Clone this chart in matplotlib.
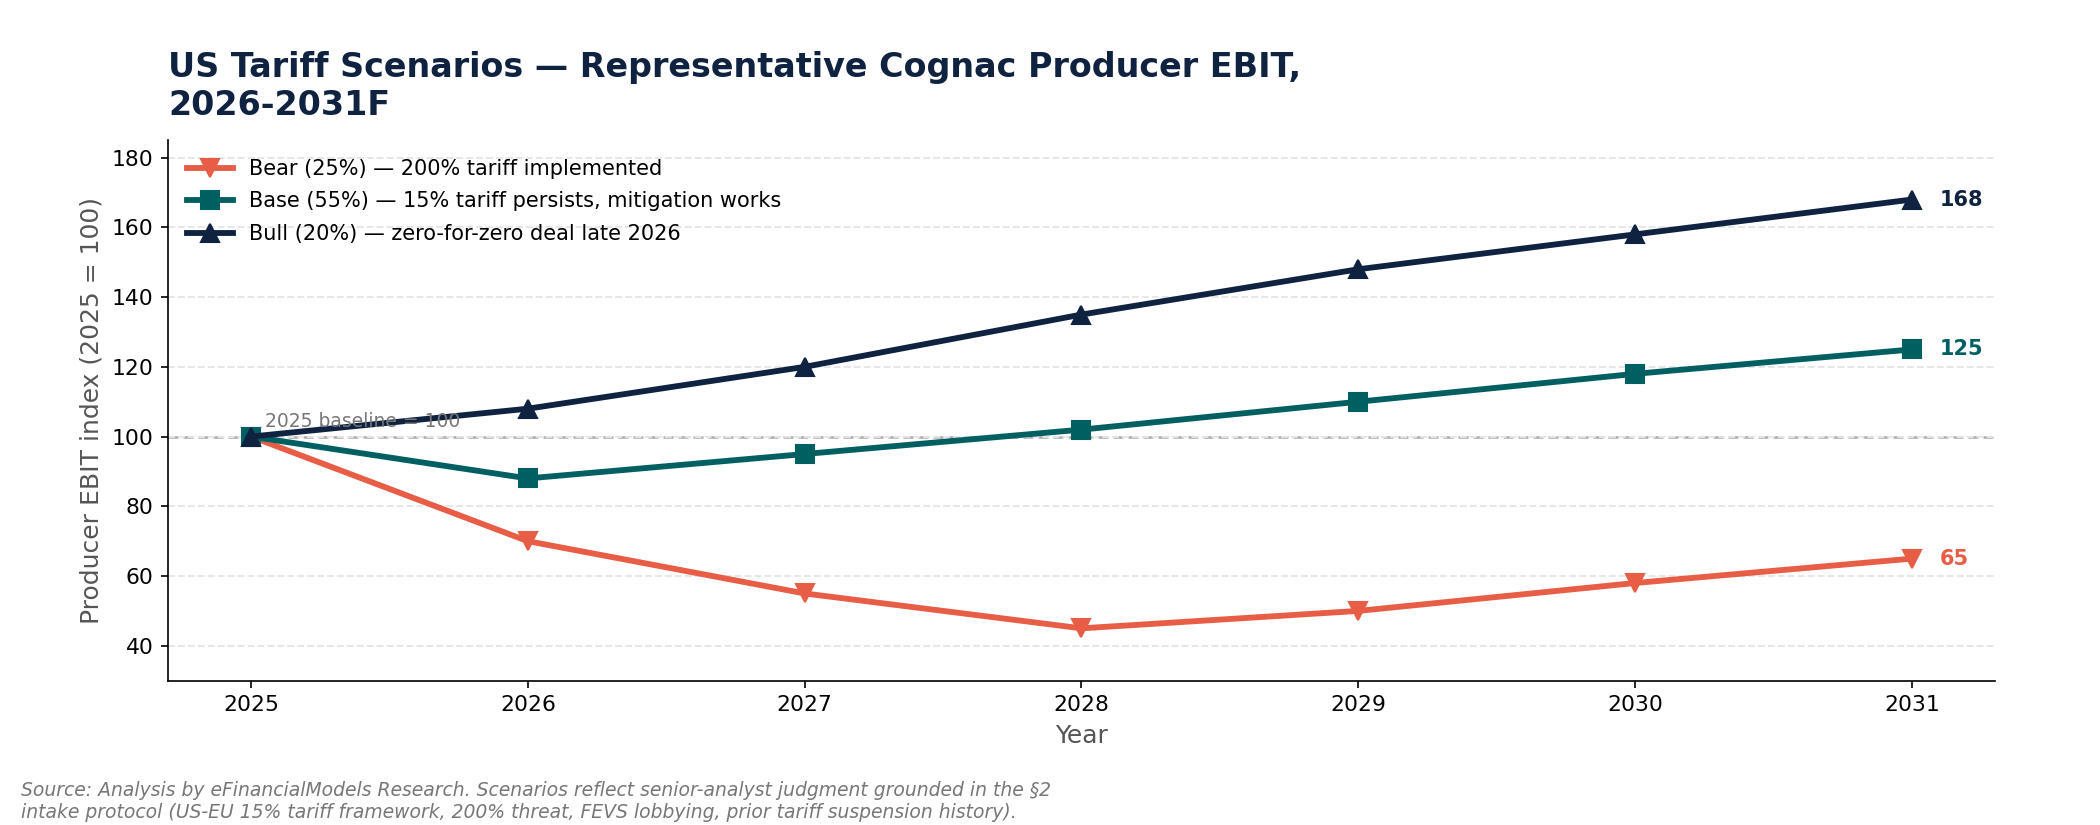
import numpy as np
import matplotlib.pyplot as plt

years = [2025, 2026, 2027, 2028, 2029, 2030, 2031]
bear = [100, 70, 55, 45, 50, 58, 65]
base = [100, 88, 95, 102, 110, 118, 125]
bull = [100, 108, 120, 135, 148, 158, 168]

labels = ['Bear (25%) — 200% tariff implemented',
          'Base (55%) — 15% tariff persists, mitigation works',
          'Bull (20%) — zero-for-zero deal late 2026']
colors = ['#E85D45', '#005F60', '#0F2240']
markers = ['v', 's', '^']

fig, ax = plt.subplots(figsize=(14, 5.5), dpi=150)
fig.subplots_adjust(left=0.08, right=0.95, top=0.83, bottom=0.175)

for vals, lab, c, m in zip([bear, base, bull], labels, colors, markers):
    ax.plot(years, vals, color=c, marker=m, markersize=9, linewidth=2.8, label=lab)
    ax.text(years[-1] + 0.1, vals[-1], str(vals[-1]), color=c, fontsize=10,
            fontweight='bold', va='center', ha='left')

ax.axhline(100, color='#aaaaaa', linestyle=(0, (4, 2)), linewidth=1.2, zorder=0)
ax.text(2025.05, 101.5, '2025 baseline = 100', color='#777777', fontsize=9, va='bottom')

ax.set_xlim(2024.7, 2031.3)
ax.set_ylim(30, 185)
ax.set_xticks(years)
ax.set_yticks(np.arange(40, 181, 20))
ax.tick_params(labelsize=10.5)
ax.grid(axis='y', linestyle='--', color='#e6e6e6', linewidth=0.9)
ax.set_axisbelow(True)
for s in ['top', 'right']:
    ax.spines[s].set_visible(False)

ax.set_xlabel('Year', fontsize=12, color='#555555')
ax.set_ylabel('Producer EBIT index (2025 = 100)', fontsize=12, color='#555555')
ax.set_title('US Tariff Scenarios — Representative Cognac Producer EBIT,\n2026-2031F',
             loc='left', fontsize=16, fontweight='bold', color='#0F2240', pad=12)

ax.legend(loc='upper left', frameon=False, fontsize=10, handlelength=2.2,
          borderaxespad=0.5, labelspacing=0.6)

fig.text(0.01, 0.004, 'Source: Analysis by eFinancialModels Research. Scenarios reflect senior-analyst judgment grounded in the §2\n'
         'intake protocol (US-EU 15% tariff framework, 200% threat, FEVS lobbying, prior tariff suspension history).',
         fontsize=9, style='italic', color='#777777', ha='left', va='bottom')

plt.savefig('out.png', dpi=150)
